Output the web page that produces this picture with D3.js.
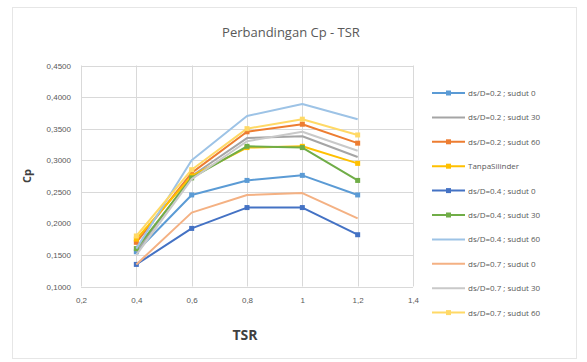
<!DOCTYPE html>
<html><head><meta charset="utf-8">
<script src="https://cdn.jsdelivr.net/npm/d3@7"></script>
<style>body{margin:0;background:#fff;}svg{display:block;font-family:"Open Sans","Liberation Sans",sans-serif;}</style>
</head><body><svg id="c" width="587" height="362"></svg>
<script>
const tsr = [0.4, 0.6, 0.8, 1.0, 1.2];
const xTicks = [0.2, 0.4, 0.6, 0.8, 1.0, 1.2, 1.4];
const yTicks = [0.10, 0.15, 0.20, 0.25, 0.30, 0.35, 0.40, 0.45];
const seriesNames = ["ds/D=0.2 ; sudut 0","ds/D=0.2 ; sudut 30","ds/D=0.2 ; sudut 60","TanpaSilinder","ds/D=0.4 ; sudut 0","ds/D=0.4 ; sudut 30","ds/D=0.4 ; sudut 60","ds/D=0.7 ; sudut 0","ds/D=0.7 ; sudut 30","ds/D=0.7 ; sudut 60"];
const s1 = [0.155, 0.245, 0.268, 0.276, 0.245];
const s2 = [0.155, 0.275, 0.335, 0.338, 0.305];
const s3 = [0.170, 0.280, 0.345, 0.357, 0.327];
const s4 = [0.175, 0.275, 0.320, 0.322, 0.295];
const s5 = [0.135, 0.192, 0.225, 0.225, 0.182];
const s6 = [0.160, 0.272, 0.322, 0.320, 0.268];
const s7 = [0.160, 0.300, 0.370, 0.389, 0.365];
const s8 = [0.135, 0.217, 0.245, 0.248, 0.208];
const s9 = [0.150, 0.270, 0.330, 0.345, 0.315];
const s10 = [0.180, 0.285, 0.350, 0.365, 0.340];
const seriesValues = [s1,s2,s3,s4,s5,s6,s7,s8,s9,s10];
const colors = ["#5B9BD5","#A5A5A5","#ED7D31","#FFC000","#4472C4","#70AD47","#9DC3E6","#F4B183","#C9C9C9","#FFD966"];
const hasMarker = [true,false,true,true,true,true,false,false,false,true];

const svg = d3.select("#c");
svg.append("rect").attr("x",12.5).attr("y",7.5).attr("width",564).attr("height",351)
  .attr("fill","#fff").attr("stroke","#e6e6e6");

const x = d3.scaleLinear().domain([0.2,1.4]).range([81,413]);
const y = d3.scaleLinear().domain([0.10,0.45]).range([286.5,65.5]);

// grid
svg.append("g").selectAll("line.h").data(yTicks).join("line")
  .attr("x1",81).attr("x2",413).attr("y1",d=>Math.round(y(d))+0.5).attr("y2",d=>Math.round(y(d))+0.5)
  .attr("stroke","#d9d9d9");
svg.append("g").selectAll("line.v").data(xTicks).join("line")
  .attr("y1",65.5).attr("y2",286.5).attr("x1",d=>Math.round(x(d))+0.5).attr("x2",d=>Math.round(x(d))+0.5)
  .attr("stroke","#d9d9d9");

const fmt = d3.format(".4f");
const yAxis = svg.append("g").attr("transform","translate(81,0)")
  .call(d3.axisLeft(y).tickValues(yTicks).tickSize(0).tickPadding(10).tickFormat(d=>fmt(d).replace(".",",")));
const xAxis = svg.append("g").attr("transform","translate(0,286.5)")
  .call(d3.axisBottom(x).tickValues(xTicks).tickSize(0).tickPadding(11).tickFormat(d=>(Math.round(d*10)/10).toString().replace(".",",")));
[yAxis,xAxis].forEach(a=>{a.select(".domain").remove();a.selectAll("text").attr("fill","#595959").style("font-size","8px");});

const line = d3.line().x((d,i)=>x(tsr[i])).y(d=>y(d));
seriesValues.forEach((vals,k)=>{
  svg.append("path").datum(vals).attr("d",line).attr("fill","none")
    .attr("stroke",colors[k]).attr("stroke-width",2).attr("stroke-linejoin","round");
  if(hasMarker[k]){
    svg.append("g").selectAll("rect").data(vals).join("rect")
      .attr("x",(d,i)=>x(tsr[i])-2.5).attr("y",d=>y(d)-2.5).attr("width",5).attr("height",5)
      .attr("fill",colors[k]);
  }
});

svg.append("text").attr("x",291).attr("y",37).attr("text-anchor","middle")
  .attr("fill","#595959").style("font-size","13px").text("Perbandingan Cp - TSR");
svg.append("text").attr("x",245).attr("y",340).attr("text-anchor","middle")
  .attr("fill","#404040").style("font-size","14px").style("font-weight","bold").text("TSR");
svg.append("text").attr("transform","translate(31,176) rotate(-90)").attr("text-anchor","middle")
  .attr("fill","#404040").style("font-size","11px").style("font-weight","bold").text("Cp");

const lg = svg.append("g");
seriesNames.forEach((name,k)=>{
  const yy = 93 + k*24.4;
  lg.append("line").attr("x1",432).attr("x2",465).attr("y1",yy).attr("y2",yy)
    .attr("stroke",colors[k]).attr("stroke-width",2);
  if(hasMarker[k]) lg.append("rect").attr("x",446).attr("y",yy-2.5).attr("width",5).attr("height",5).attr("fill",colors[k]);
  lg.append("text").attr("x",468).attr("y",yy+3).attr("fill","#595959").style("font-size","8px").text(name);
});
</script></body></html>
